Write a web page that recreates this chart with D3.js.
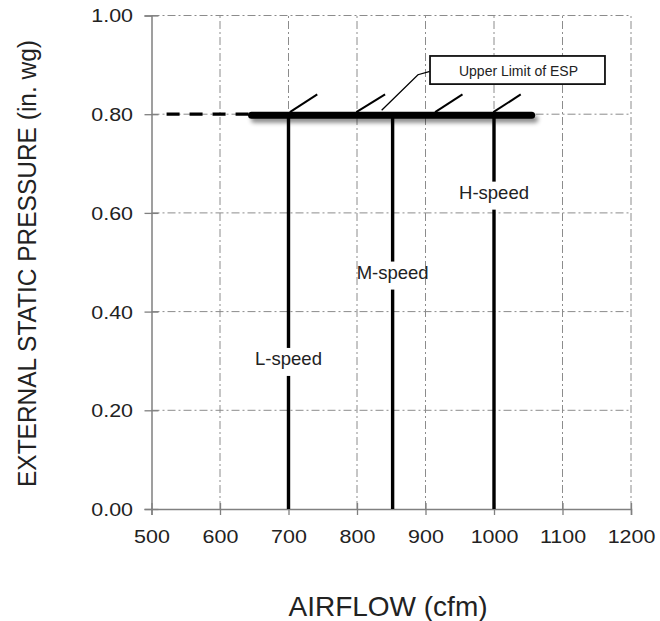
<!DOCTYPE html>
<html>
<head>
<meta charset="utf-8">
<script src="https://cdn.jsdelivr.net/npm/d3@7/dist/d3.min.js"></script>
<style>
  html, body { margin: 0; padding: 0; background: #fff; }
  svg { display: block; font-family: "Liberation Sans", Arial, sans-serif; }
</style>
</head>
<body>
<svg id="chart" width="660" height="621"></svg>
<script>
// ---- data ----
const xDomain = [500, 1200];
const yDomain = [0, 1];
const xTicks = [500, 600, 700, 800, 900, 1000, 1100, 1200];
const yTicks = [0, 0.2, 0.4, 0.6, 0.8, 1.0];
const speedNames = ["L-speed", "M-speed", "H-speed"];
const speedAirflow = [700, 852, 1000];
const speedLabelPressure = [0.298, 0.473, 0.635];
const espLimit = 0.8;
const espSolid = [646, 1055];
const espDashed = [522, 646];
const hatchStart = [702, 799, 914, 999];
const hatchEnd = [742, 841, 954, 1039];
const hatchTop = 0.84;
const calloutText = "Upper Limit of ESP";
const leaderX = [836, 889, 906.6];
const leaderY = [0.808, 0.880, 0.887];
const calloutBoxX = [906.6, 1162];
const calloutBoxY = [0.918, 0.861];
const xTitle = "AIRFLOW (cfm)";
const yTitle = "EXTERNAL STATIC PRESSURE (in. wg)";

// ---- chart ----
const svg = d3.select("#chart");
const x = d3.scaleLinear().domain(xDomain).range([151.5, 631]);
const y = d3.scaleLinear().domain(yDomain).range([509, 15.5]);

const defs = svg.append("defs");
const f = defs.append("filter").attr("id", "shadow")
  .attr("filterUnits", "userSpaceOnUse")
  .attr("x", 0).attr("y", 0).attr("width", 660).attr("height", 621);
f.append("feDropShadow").attr("dx", 3).attr("dy", 4).attr("stdDeviation", 2.2)
  .attr("flood-color", "#000").attr("flood-opacity", 0.45);

const gridColor = "#8c8c8c";
const gridDash = "8,3,2,3";

// grid
svg.append("g").selectAll("line").data(xTicks.slice(1)).join("line")
  .attr("x1", d => x(d)).attr("x2", d => x(d))
  .attr("y1", y(0)).attr("y2", y(1))
  .attr("stroke", gridColor).attr("stroke-width", 1).attr("stroke-dasharray", gridDash);
svg.append("g").selectAll("line").data(yTicks.slice(1)).join("line")
  .attr("x1", x(500)).attr("x2", x(1200))
  .attr("y1", d => y(d)).attr("y2", d => y(d))
  .attr("stroke", gridColor).attr("stroke-width", 1).attr("stroke-dasharray", gridDash);

// axes
const axisColor = "#808080";
const xAxis = svg.append("g").attr("transform", `translate(0,${y(0)})`)
  .call(d3.axisBottom(x).tickValues(xTicks).tickSize(6).tickPadding(0).tickFormat(d3.format("d")));
const yAxis = svg.append("g").attr("transform", `translate(${x(500)},0)`)
  .call(d3.axisLeft(y).tickValues(yTicks).tickSize(7).tickPadding(0).tickFormat(d3.format(".2f")));
[xAxis, yAxis].forEach(a => {
  a.select(".domain").attr("stroke", axisColor).attr("stroke-width", 1.5);
  a.selectAll(".tick line").attr("stroke", axisColor).attr("stroke-width", 1.3);
});
xAxis.selectAll(".tick line").attr("y1", -6).attr("y2", 6);
yAxis.selectAll(".tick line").attr("x1", -7).attr("x2", 7);
xAxis.selectAll(".tick text")
  .attr("fill", "#222").attr("font-size", 18.5)
  .attr("y", 0).attr("dy", 0)
  .attr("transform", "translate(0,34) scale(1.16,1)");
yAxis.selectAll(".tick text")
  .attr("fill", "#222").attr("font-size", 18.5)
  .attr("x", 0).attr("dy", "0.35em")
  .attr("transform", "translate(-18.5,0) scale(1.16,1)");

// dashed extension of ESP limit
svg.append("line")
  .attr("x1", x(espDashed[0])).attr("x2", x(espDashed[1]))
  .attr("y1", y(espLimit)).attr("y2", y(espLimit))
  .attr("stroke", "#000").attr("stroke-width", 3.2).attr("stroke-dasharray", "13,10");

// vertical speed lines
const speeds = speedNames.map((n, i) => ({ name: n, x: speedAirflow[i], p: speedLabelPressure[i] }));
svg.append("g").selectAll("line").data(speeds).join("line")
  .attr("x1", d => x(d.x)).attr("x2", d => x(d.x))
  .attr("y1", y(0)).attr("y2", y(espLimit))
  .attr("stroke", "#000").attr("stroke-width", 3.4);

// heavy ESP line with shadow
svg.append("line")
  .attr("x1", x(espSolid[0])).attr("x2", x(espSolid[1]))
  .attr("y1", y(espLimit) + 1).attr("y2", y(espLimit) + 1)
  .attr("stroke", "#000").attr("stroke-width", 7).attr("stroke-linecap", "round")
  .attr("filter", "url(#shadow)");

// hatches
svg.append("g").selectAll("line").data(hatchStart).join("line")
  .attr("x1", d => x(d)).attr("x2", (d, i) => x(hatchEnd[i]))
  .attr("y1", y(espLimit) - 2).attr("y2", y(hatchTop))
  .attr("stroke", "#000").attr("stroke-width", 2);

// leader line and callout
const leader = leaderX.map((v, i) => [x(v), y(leaderY[i])]);
svg.append("path").attr("d", d3.line()(leader))
  .attr("fill", "none").attr("stroke", "#000").attr("stroke-width", 1.3);
svg.append("rect")
  .attr("x", x(calloutBoxX[0])).attr("y", y(calloutBoxY[0]))
  .attr("width", x(calloutBoxX[1]) - x(calloutBoxX[0]))
  .attr("height", y(calloutBoxY[1]) - y(calloutBoxY[0]))
  .attr("fill", "#fff").attr("stroke", "#111").attr("stroke-width", 1.8);
svg.append("text")
  .attr("x", (x(calloutBoxX[0]) + x(calloutBoxX[1])) / 2 + 1)
  .attr("y", (y(calloutBoxY[0]) + y(calloutBoxY[1])) / 2 + 5.5)
  .attr("text-anchor", "middle").attr("font-size", 14).attr("fill", "#222")
  .text(calloutText);

// speed labels
const lab = svg.append("g").selectAll("g").data(speeds).join("g")
  .attr("transform", d => `translate(${x(d.x)},${y(d.p)})`);
lab.append("rect").attr("x", -4).attr("y", -14).attr("width", 8).attr("height", 28).attr("fill", "#fff");
lab.append("text").attr("text-anchor", "middle").attr("y", 3.5)
  .attr("font-size", 18.5).attr("fill", "#222").text(d => d.name);

// axis titles
svg.append("text")
  .attr("x", 388).attr("y", 616)
  .attr("text-anchor", "middle").attr("font-size", 28).attr("fill", "#222")
  .text(xTitle);
svg.append("text")
  .attr("transform", "translate(36,263.5) rotate(-90)")
  .attr("text-anchor", "middle").attr("font-size", 26).attr("fill", "#222")
  .attr("textLength", 447).attr("lengthAdjust", "spacingAndGlyphs")
  .text(yTitle);
</script>
</body>
</html>
